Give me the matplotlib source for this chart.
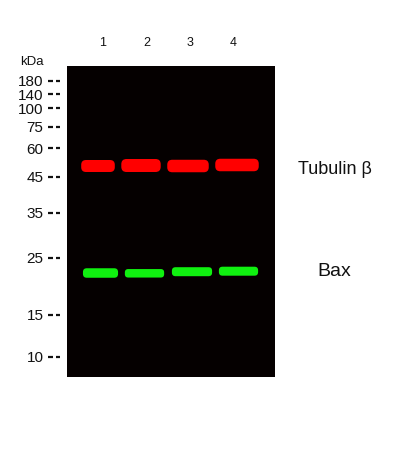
import matplotlib
matplotlib.use("Agg")
import matplotlib.pyplot as plt
from matplotlib.patches import FancyBboxPatch

plt.rcParams['font.family'] = ['Liberation Sans', 'DejaVu Sans']

# membrane coordinates in scan pixels (x from left edge, y from top edge)
blot_w, blot_h = 208, 311

marker_kda = [180, 140, 100, 75, 60, 45, 35, 25, 15, 10]
marker_y = [14.7, 28, 42, 61, 82, 110.5, 146.5, 191.5, 248.5, 290.5]

lane_names = ["1", "2", "3", "4"]
lane_x = [36, 80, 123, 166]

# Tubulin beta bands (red): left, right, centre y, thickness
tub_left = [13, 53, 99, 147]
tub_right = [49, 95, 143, 193]
tub_y = [100, 99.5, 100, 99]
tub_h = [12, 13, 12.5, 12.5]

# Bax bands (green)
bax_left = [15, 57, 104, 151]
bax_right = [52, 98, 146, 192]
bax_y = [207, 207.3, 205.7, 205.2]
bax_h = [9.5, 8.5, 9, 9]

targets = ["Tubulin β", "Bax"]
target_x = [231, 250]
target_y = [104, 206]
target_size = [13, 14]


def draw_bands(ax, lefts, rights, ys, hs, color):
    for x0, x1, yc, h in zip(lefts, rights, ys, hs):
        r = h / 2.0
        core = r * 0.2
        ax.add_patch(FancyBboxPatch((x0 + r, yc - core), (x1 - x0) - 2 * r, 2 * core,
                                    boxstyle=f"round,pad={r - core}",
                                    fc=color, ec='none'))


fig = plt.figure(figsize=(4, 4.5), dpi=100)
ax = fig.add_axes([67 / 400, 1 - 377 / 450, blot_w / 400, blot_h / 450])
ax.set_facecolor('#050000')
ax.set_xlim(0, blot_w)
ax.set_ylim(blot_h, 0)
for s in ax.spines.values():
    s.set_visible(False)

draw_bands(ax, tub_left, tub_right, tub_y, tub_h, '#ff0000')
draw_bands(ax, bax_left, bax_right, bax_y, bax_h, '#10f010')

ax.set_xticks([])
ax.set_yticks(marker_y)
ax.set_yticklabels([str(k) for k in marker_kda], fontsize=11, color='#111111')
ax.tick_params(axis='y', length=0, pad=17)

# ladder dashes "--" left of the membrane
xs, ys = [], []
for y in marker_y:
    xs += [-19, -14.5, None, -11.5, -7, None]
    ys += [y, y, None, y, y, None]
ax.plot(xs, ys, color='#111111', lw=1.6, solid_capstyle='butt', clip_on=False)

for name, x in zip(lane_names, lane_x):
    ax.text(x, -23, name, ha='center', va='center', fontsize=9,
            color='#111111', clip_on=False)

for name, x, y, fs in zip(targets, target_x, target_y, target_size):
    ax.text(x, y, name, ha='left', va='center', fontsize=fs,
            color='#111111', clip_on=False)

fig.text(31.5 / 400, 1 - 62 / 450, "kDa", ha='center', va='center',
         fontsize=9.5, color='#111111')

fig.savefig("out.png", dpi=100)
